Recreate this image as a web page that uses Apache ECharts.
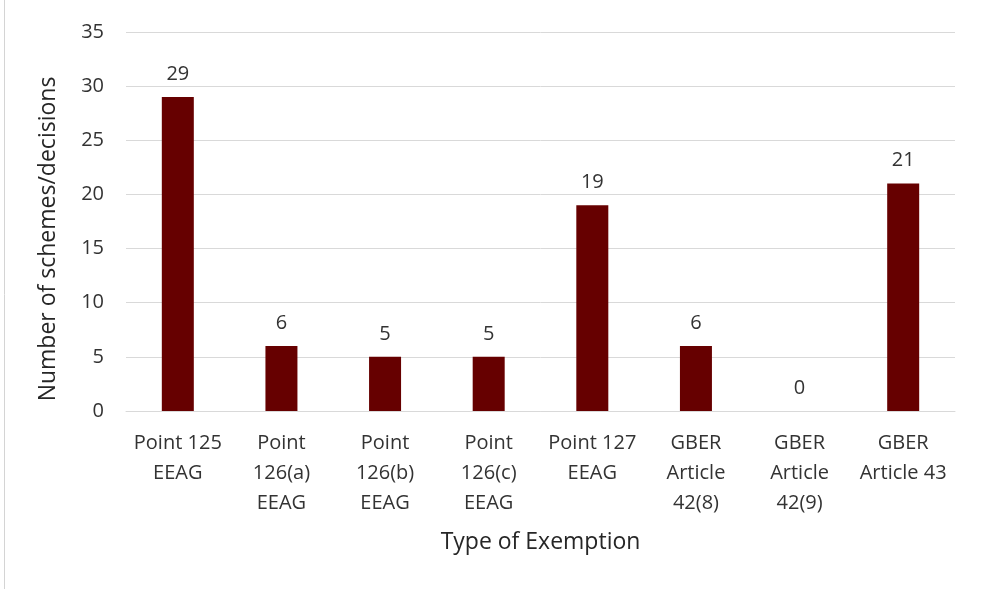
<!DOCTYPE html>
<html>
<head>
<meta charset="utf-8">
<style>
  html, body { margin: 0; padding: 0; background: #fff; }
  #chart { width: 984px; height: 589px; }
</style>
<script src="https://cdn.jsdelivr.net/npm/echarts@6/dist/echarts.min.js"></script>
</head>
<body>
<div id="chart"></div>
<script>
const categories = [
  'Point 125\nEEAG',
  'Point\n126(a)\nEEAG',
  'Point\n126(b)\nEEAG',
  'Point\n126(c)\nEEAG',
  'Point 127\nEEAG',
  'GBER\nArticle\n42(8)',
  'GBER\nArticle\n42(9)',
  'GBER\nArticle 43'
];
const counts = [29, 6, 5, 5, 19, 6, 0, 21];
const yTicks = { min: 0, max: 35, interval: 5 };
const yTitle = 'Number of schemes/decisions';
const xTitle = 'Type of Exemption';

const font = "'Open Sans', 'Liberation Sans', sans-serif";
const chart = echarts.init(document.getElementById('chart'));
chart.setOption({
  animation: false,
  graphic: [{
    type: 'line',
    shape: { x1: 4.5, y1: 0, x2: 4.5, y2: 589 },
    style: { stroke: '#d4d4d4', lineWidth: 1 }
  }, {
    // vertical axis title, sitting a little below the plot's middle
    type: 'text',
    x: 48, y: 239,
    rotation: Math.PI / 2,
    style: {
      text: yTitle, fontFamily: font, fontSize: 23, fill: '#262626',
      textAlign: 'center', textVerticalAlign: 'middle'
    }
  }],
  grid: { left: 126, right: 29, top: 32, bottom: 178 },
  xAxis: {
    type: 'category',
    data: categories,
    name: xTitle,
    nameLocation: 'middle',
    nameGap: 120,
    nameTextStyle: { fontFamily: font, fontSize: 23, color: '#262626' },
    axisLine: { lineStyle: { color: '#d9d9d9' } },
    axisTick: { show: false },
    axisLabel: {
      interval: 0, margin: 17, fontFamily: font, fontSize: 20,
      color: '#333', lineHeight: 30
    }
  },
  yAxis: {
    type: 'value',
    min: yTicks.min, max: yTicks.max, interval: yTicks.interval,
    axisLine: { show: false },
    axisTick: { show: false },
    axisLabel: { margin: 22, fontFamily: font, fontSize: 20, color: '#333' },
    splitLine: { lineStyle: { color: '#d9d9d9' } }
  },
  series: [{
    type: 'bar',
    data: counts,
    barWidth: 32,
    itemStyle: { color: '#660000' },
    label: {
      show: true, position: 'top', distance: 13,
      fontFamily: font, fontSize: 20, color: '#333'
    }
  }]
});
</script>
</body>
</html>
